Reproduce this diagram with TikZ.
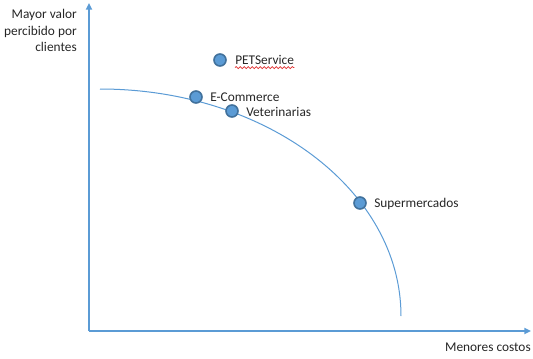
\documentclass[tikz,border=0pt]{standalone}
\usepackage{fontspec}
\setmainfont{Carlito}
\usetikzlibrary{arrows.meta,decorations.pathmorphing}
\definecolor{axisblue}{HTML}{5B9BD5}
\definecolor{dotedge}{HTML}{41719C}
\definecolor{spellred}{HTML}{E03030}
\tikzset{
  axis/.style={draw=axisblue, line width=1.5pt, -{Triangle[length=5pt,width=4.5pt]}},
  frontier/.style={draw=axisblue, line width=0.75pt},
  dot/.style={circle, fill=axisblue, draw=dotedge, line width=1.2pt, minimum size=9pt, inner sep=0pt},
  lbl/.style={font=\fontsize{10}{12.5}\selectfont, text=black!85, inner sep=0pt, anchor=west},
}
\begin{document}
\begin{tikzpicture}[x=0.75pt, y=-0.75pt]
  \useasboundingbox (0,0) rectangle (533,358);
  % axes
  \coordinate (origin) at (89,331);
  \coordinate (ytip) at (89,3);
  \coordinate (xtip) at (531,331);
  \draw[axis] (origin) -- (ytip);
  \draw[axis] (origin) -- (xtip);
  % axis captions
  \node[lbl, anchor=north east, align=right] (ycap) at (77,9)
    {Mayor valor\\percibido por\\clientes};
  \node[lbl, anchor=east] (xcap) at (531,347) {Menores costos};
  % efficiency frontier (quarter ellipse)
  \draw[frontier] (100,89) arc[start angle=-90, end angle=0, x radius=301, y radius=227];
  % positions
  \node[dot] (pet) at (220,60) {};
  \node[dot] (ecom) at (196,97) {};
  \node[dot] (vet) at (232,111) {};
  \node[dot] (super) at (360,203) {};
  \node[lbl] (petl) at (235,60) {PETService};
  \node[lbl] (ecoml) at (210,97) {E-Commerce};
  \node[lbl] (vetl) at (246,112) {Veterinarias};
  \node[lbl] (superl) at (374,204) {Supermercados};
  % spell-check squiggle
  \draw[spellred, line width=0.5pt, decorate, decoration={snake, amplitude=0.8pt, segment length=3pt}]
    ([yshift=-2pt]petl.south west) -- ([yshift=-2pt]petl.south east);
\end{tikzpicture}
\end{document}
